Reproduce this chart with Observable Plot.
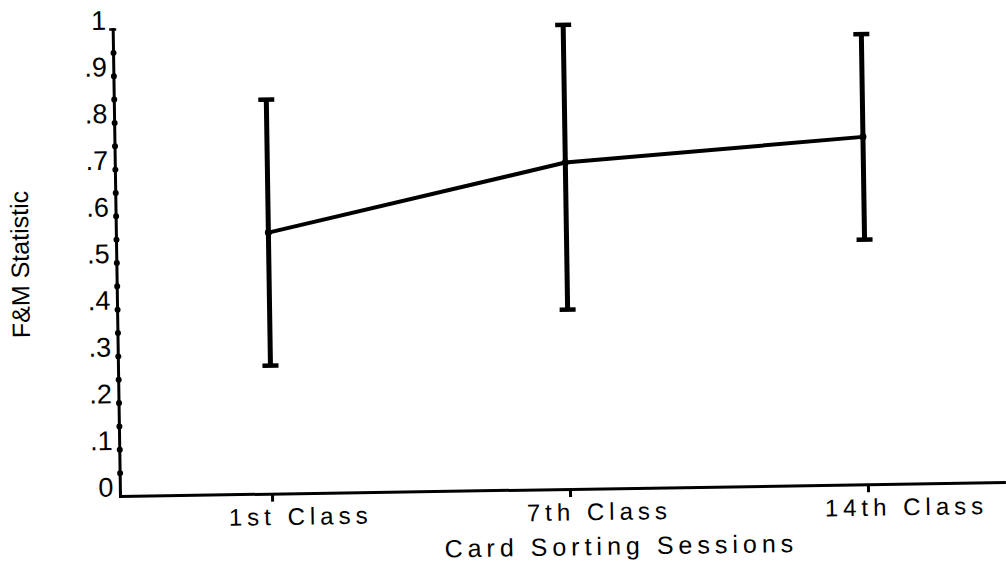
<!DOCTYPE html>
<html><head><meta charset="utf-8">
<script src="https://cdn.jsdelivr.net/npm/d3@7"></script>
<script src="https://cdn.jsdelivr.net/npm/@observablehq/plot@0.6"></script>
<style>
html,body{margin:0;padding:0;background:#fff;overflow:hidden}
#chart svg{display:block;overflow:visible;transform:rotate(-0.9deg);transform-origin:120px 496px}
#chart g[aria-label="x-axis tick label"] text{letter-spacing:5px}
</style></head><body><div id="chart"></div>
<script>
const sessions = ["1st Class", "7th Class", "14th Class"];
const means = [0.56, 0.70, 0.745];
const lower = [0.275, 0.385, 0.525];
const upper = [0.845, 0.995, 0.965];
const yTicks = [0, 0.1, 0.2, 0.3, 0.4, 0.5, 0.6, 0.7, 0.8, 0.9, 1];
const yTickLabels = ["0", ".1", ".2", ".3", ".4", ".5", ".6", ".7", ".8", ".9", "1"];
const yMinorTicks = [0.05, 0.1, 0.15, 0.2, 0.25, 0.3, 0.35, 0.4, 0.45, 0.5, 0.55, 0.6, 0.65, 0.7, 0.75, 0.8, 0.85, 0.9, 0.95];
const xTitle = "Card Sorting Sessions";
const yTitle = "F&M Statistic";

const data = sessions.map((s, i) => ({session: s, mean: means[i], lo: lower[i], hi: upper[i]}));
const font = "'Liberation Sans', Arial, sans-serif";

// horizontal dash symbol for error-bar caps
const capSymbol = {
  draw(context, size) {
    const w = Math.sqrt(size / Math.PI);
    context.moveTo(-w, 0);
    context.lineTo(w, 0);
  }
};

const chart = Plot.plot({
  width: 1006, height: 564,
  marginTop: 29, marginBottom: 68, marginLeft: 120, marginRight: 0,
  style: {fontFamily: font, color: "#000", background: "#fff", overflow: "visible"},
  x: {type: "point", domain: sessions, range: [271, 868], padding: 0},
  y: {domain: [0, 1]},
  marks: [
    Plot.axisY({ticks: yTicks, tickSize: 0, tickPadding: 7, tickFormat: (d) => yTickLabels[yTicks.indexOf(d)], fontSize: 27, lineAnchor: "bottom", label: null}),
    Plot.axisY({ticks: [1], tickSize: 7, tickPadding: 0, tickFormat: () => "", strokeWidth: 2.5, dx: 3.5, label: null}),
    Plot.text([yTitle], {frameAnchor: "left", rotate: -90, dx: -96, fontSize: 25, textAnchor: "middle", lineAnchor: "middle"}),
    Plot.frame({anchor: "left", strokeWidth: 3}),
    Plot.ruleY([0], {strokeWidth: 3}),
    Plot.dot(yMinorTicks, {y: (d) => d, frameAnchor: "left", r: 3, fill: "black", stroke: null}),
    Plot.axisX({ticks: sessions, tickSize: 8, strokeWidth: 3, tickFormat: () => "", label: null}),
    Plot.axisX({ticks: sessions, tickSize: 0, tickPadding: 14, fontSize: 24, textAnchor: "start", dx: -44, label: null}),
    Plot.text([xTitle], {frameAnchor: "bottom", dx: 57, dy: 66, fontSize: 25, textAnchor: "middle", lineAnchor: "bottom"}),
    Plot.ruleX(data, {x: "session", y1: "lo", y2: "hi", strokeWidth: 5}),
    Plot.dot(data, {x: "session", y: "hi", symbol: capSymbol, r: 8, stroke: "black", strokeWidth: 4.5, fill: "none"}),
    Plot.dot(data, {x: "session", y: "lo", symbol: capSymbol, r: 8, stroke: "black", strokeWidth: 4.5, fill: "none"}),
    Plot.line(data, {x: "session", y: "mean", strokeWidth: 4}),
    Plot.dot(data, {x: "session", y: "mean", r: 3.5, fill: "black", stroke: null})
  ]
});
chart.querySelectorAll("text").forEach((t) => {
  if (t.textContent === xTitle) t.style.letterSpacing = "5px";
});
document.getElementById("chart").append(chart);
</script>
</body></html>
